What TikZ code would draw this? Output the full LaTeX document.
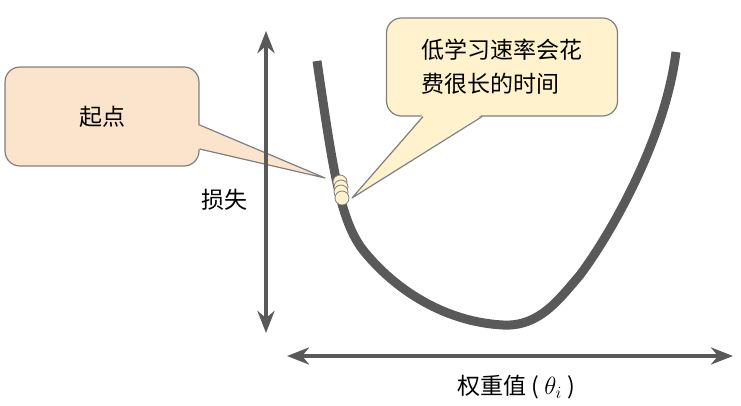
\documentclass[tikz,border=0pt]{standalone}
\usepackage{xcolor}
\usepackage{amsmath}
\usepackage{fontspec}
\setmainfont{Noto Sans CJK SC}
\usepackage{tikz}
\usetikzlibrary{arrows.meta,calc}

\definecolor{axisgray}{HTML}{595959}
\definecolor{boxgray}{HTML}{7F7F7F}
\definecolor{peach}{HTML}{FCE4CC}
\definecolor{cream}{HTML}{FFF2CC}

\begin{document}
\begin{tikzpicture}[x=1pt, y=-1pt, every node/.style={font=\fontsize{23}{34}\selectfont},
    axis/.style={draw=axisgray, line width=4pt, {Stealth[length=22pt,width=17pt,inset=7pt]}-{Stealth[length=22pt,width=17pt,inset=7pt]}},
    callout/.style={draw=boxgray, line width=1.2pt, rounded corners=15pt, inner sep=0pt},
    ball/.style={circle, draw=boxgray, fill=cream, line width=0.8pt, minimum size=14pt, inner sep=0pt}]
    \useasboundingbox (0,0) rectangle (741,405);

    % Callout boxes - left one for the start, right one near the top
    \node[callout, fill=peach, minimum width=194pt, minimum height=99pt] (start) at (102,116.5) {起点};
    \node[callout, fill=cream, minimum width=231pt, minimum height=98pt, align=left] (slow) at (502,67) {低学习速率会花\\费很长的时间};

    % Pointer tips of the callouts
    \coordinate (tipstart) at (325,178);
    \coordinate (tipslow) at (352,198);

    % Pointers - filled a bit into the box to hide its border
    \fill[peach] ($(start.east)+(-2,8.5)$) -- (tipstart) -- ($(start.east)+(-2,32.5)$) -- cycle;
    \draw[boxgray, line width=1.2pt, line join=round] ($(start.east)+(0,8.5)$) -- (tipstart) -- ($(start.east)+(0,32.5)$);
    \fill[cream] ($(slow.south)+(-79,-2)$) -- (tipslow) -- ($(slow.south)+(-20,-2)$) -- cycle;
    \draw[boxgray, line width=1.2pt, line join=round] ($(slow.south)+(-79,0)$) -- (tipslow) -- ($(slow.south)+(-20,0)$);

    % Axes
    \coordinate (ytop) at (266,31);
    \coordinate (ybot) at (266,333);
    \coordinate (xleft) at (287,356);
    \coordinate (xright) at (733,356);
    \draw[axis] (ybot) -- (ytop);
    \draw[axis] (xleft) -- (xright);

    % Axis labels
    \node (loss) at (224,200) {损失};
    \node (weight) at (516,387) {权重值 ( $\theta_i$ )};

    % Loss curve
    \draw[axisgray, line width=9pt] (317,61) .. controls (333,170) and (340,220) .. (363,250)
        .. controls (395,290) and (445,322) .. (503,325)
        .. controls (540,327) and (560,298) .. (580,275)
        .. controls (610,235) and (665,140) .. (676,52);

    % Starting points on the curve
    \node[ball] (ball1) at (340,182) {};
    \node[ball] (ball2) at (341,187) {};
    \node[ball] (ball3) at (341,192) {};
    \node[ball] (ball4) at (342,198) {};
\end{tikzpicture}
\end{document}
